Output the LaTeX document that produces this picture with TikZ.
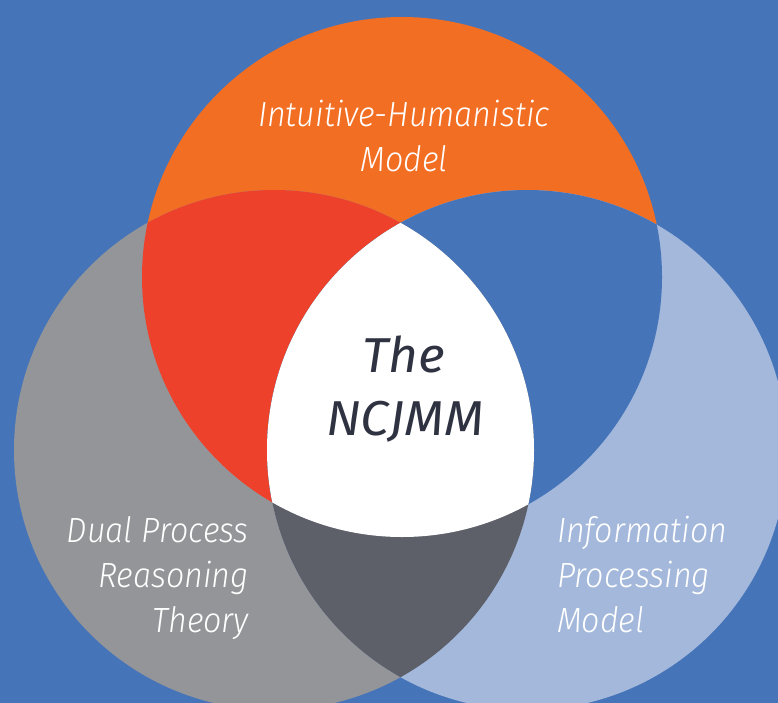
\documentclass[tikz,border=0pt]{standalone}
\usepackage{fontspec}
\newfontfamily\lblfont{Fira Sans Light Italic}[FakeStretch=0.92]
\newfontfamily\ctrfont{Fira Sans Italic}[FakeStretch=1.05]
\definecolor{bgblue}{HTML}{4674B9}
\definecolor{orangec}{HTML}{F26E22}
\definecolor{redc}{HTML}{EE412C}
\definecolor{grayc}{HTML}{939598}
\definecolor{lbluec}{HTML}{A3B8DB}
\definecolor{dgrayc}{HTML}{5D5F69}
\definecolor{txtdark}{HTML}{2F3241}
\tikzset{
  lbl/.style={text=white, inner sep=0pt, font=\lblfont\fontsize{35}{45}\selectfont},
  ctr/.style={text=txtdark, inner sep=0pt, font=\ctrfont\fontsize{49}{65}\selectfont},
}
\begin{document}
\begin{tikzpicture}[x=1pt,y=-1pt]
\useasboundingbox (0,0) rectangle (778,703);
\clip (0,0) rectangle (778,703);
\fill[bgblue] (0,0) rectangle (778,703);
\def\orangecircle{(402,277) circle (260pt)}
\def\graycircle{(274,450) circle (260pt)}
\def\bluecircle{(527,450) circle (260pt)}
\fill[orangec] \orangecircle;
\fill[grayc] \graycircle;
\fill[lbluec] \bluecircle;
\begin{scope}
  \clip \orangecircle;
  \fill[redc] \graycircle;
  \fill[bgblue] \bluecircle;
\end{scope}
\begin{scope}
  \clip \graycircle;
  \fill[dgrayc] \bluecircle;
\end{scope}
\begin{scope}
  \clip \orangecircle;
  \clip \graycircle;
  \fill[white] \bluecircle;
\end{scope}
% labels
\node[lbl, anchor=base] (ih1) at (404,127) {Intuitive-Humanistic};
\node[lbl, anchor=base] (ih2) at (404,172) {Model};
\node[lbl, anchor=base east] (dp1) at (249,542) {Dual Process};
\node[lbl, anchor=base east] (dp2) at (249,587) {Reasoning};
\node[lbl, anchor=base east] (dp3) at (249,632) {Theory};
\node[lbl, anchor=base west] (ip1) at (557,542) {Information};
\node[lbl, anchor=base west] (ip2) at (557,587) {Processing};
\node[lbl, anchor=base west] (ip3) at (557,632) {Model};
\node[ctr, anchor=base] (c1) at (404,372) {The};
\node[ctr, anchor=base] (c2) at (405,435) {NCJMM};
\end{tikzpicture}
\end{document}
